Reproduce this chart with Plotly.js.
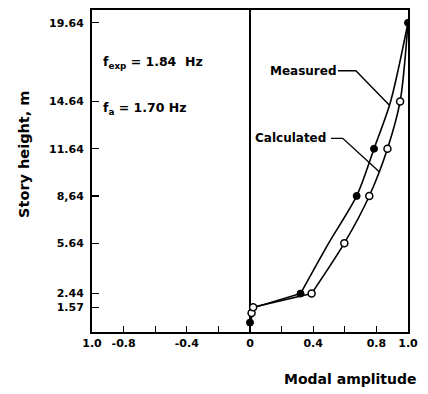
<!DOCTYPE html>
<html>
<head>
<meta charset="utf-8">
<script src="https://cdn.plot.ly/plotly-3.0.1.min.js"></script>
<style>html,body{margin:0;padding:0;background:#fff;}#chart{width:428px;height:394px;}</style>
</head>
<body>
<div id="chart"></div>
<script>
// Measured mode shape (filled markers where marked)
const measuredHeight = [0.6, 1.57, 2.44, 5.64, 8.64, 11.64, 14.64, 19.64];
const measuredAmp    = [0.0, 0.03, 0.32, 0.498, 0.675, 0.785, 0.89, 1.0];
const measuredMarked = [true, false, true, false, true, true, false, true];

// Calculated mode shape (open markers where marked)
const calcHeight = [0.2, 1.2, 1.57, 2.44, 5.64, 8.64, 11.64, 14.64, 19.64];
const calcAmp    = [0.0, 0.01, 0.02, 0.39, 0.597, 0.755, 0.87, 0.95, 1.0];
const calcMarked = [false, true, true, true, true, true, true, true, false];

const yTickVals = [1.57, 2.44, 5.64, 8.64, 11.64, 14.64, 19.64];
const yTickText = ["1.57", "2.44", "5.64", "8,64", "11.64", "14.64", "19.64"];
const xTickVals = [-1, -0.8, -0.4, 0, 0.4, 0.8, 1];
const xTickText = ["1.0", "-0.8", "-0.4", "0", "0.4", "0.8", "1.0"];
const xMinorTickVals = [-0.6, -0.2, 0.2, 0.6];

const FONT = "DejaVu Sans, sans-serif";

function lowerUpper(h, a, idx) {
  return {
    lowH: h.slice(0, idx + 1), lowA: a.slice(0, idx + 1),
    upH: h.slice(idx), upA: a.slice(idx)
  };
}
const m = lowerUpper(measuredHeight, measuredAmp, 2);
const c = lowerUpper(calcHeight, calcAmp, 3);

function pick(arr, mask) { return arr.filter((_, i) => mask[i]); }

const lineStyle = {color: "#000", width: 1.6};
const splineStyle = Object.assign({shape: "spline", smoothing: 0.8}, lineStyle);
const traces = [
  {x: m.lowA, y: m.lowH, mode: "lines", line: lineStyle, hoverinfo: "skip"},
  {x: m.upA, y: m.upH, mode: "lines", line: splineStyle, hoverinfo: "skip"},
  {x: c.lowA, y: c.lowH, mode: "lines", line: lineStyle, hoverinfo: "skip"},
  {x: c.upA, y: c.upH, mode: "lines", line: splineStyle, hoverinfo: "skip"},
  {x: pick(calcAmp, calcMarked), y: pick(calcHeight, calcMarked), mode: "markers", name: "Calculated",
   marker: {symbol: "circle", size: 7, color: "#fff", line: {color: "#000", width: 1.5}}},
  {x: pick(measuredAmp, measuredMarked), y: pick(measuredHeight, measuredMarked), mode: "markers", name: "Measured",
   marker: {symbol: "circle", size: 7, color: "#000", line: {color: "#000", width: 1}}}
];

const layout = {
  width: 428, height: 394,
  margin: {l: 92, r: 20, t: 10, b: 62},
  paper_bgcolor: "#fff", plot_bgcolor: "#fff",
  showlegend: false,
  font: {family: FONT, color: "#000", size: 11},
  xaxis: {
    range: [-1, 1], tickmode: "array", tickvals: xTickVals, ticktext: xTickText,
    ticks: "inside", ticklen: 6, tickwidth: 1.3, tickcolor: "#000",
    minor: {tickmode: "array", tickvals: xMinorTickVals, ticks: "inside", ticklen: 6, tickwidth: 1.3, tickcolor: "#000", showgrid: false},
    showline: true, mirror: true, linecolor: "#000", linewidth: 2,
    showgrid: false, zeroline: true, zerolinecolor: "#000", zerolinewidth: 1.6,
    tickfont: {family: FONT, size: 11, color: "#000", weight: "bold"}
  },
  yaxis: {
    range: [0, 20.45], tickmode: "array", tickvals: yTickVals, ticktext: yTickText,
    ticks: "inside", ticklen: 7, tickwidth: 1.3, tickcolor: "#000",
    showline: true, mirror: true, linecolor: "#000", linewidth: 2,
    showgrid: false, zeroline: false, ticklabelstandoff: 4,
    tickfont: {family: FONT, size: 11, color: "#000", weight: "bold"}
  },
  annotations: [
    {xref: "x", yref: "y", x: -0.945, y: 17.1, xanchor: "left", yanchor: "middle", showarrow: false,
     text: "f<sub>exp</sub> = 1.84  Hz", font: {family: FONT, size: 12.5, weight: "bold"}},
    {xref: "x", yref: "y", x: -0.945, y: 14.2, xanchor: "left", yanchor: "middle", showarrow: false,
     text: "f<sub>a</sub> = 1.70 Hz", font: {family: FONT, size: 12.5, weight: "bold"}},
    {xref: "x", yref: "y", x: 0.112, y: 16.6, xanchor: "left", yanchor: "middle", showarrow: false,
     text: "Measured", font: {family: FONT, size: 12, weight: "bold"}},
    {xref: "x", yref: "y", x: 0.017, y: 12.3, xanchor: "left", yanchor: "middle", showarrow: false,
     text: "Calculated", font: {family: FONT, size: 12, weight: "bold"}},
    {xref: "paper", yref: "paper", x: 1.035, y: -0.115, xanchor: "right", yanchor: "top", showarrow: false,
     text: "Modal amplitude", font: {family: FONT, size: 14, weight: "bold"}},
    {xref: "paper", yref: "paper", x: -0.215, y: 0.55, xanchor: "center", yanchor: "middle", showarrow: false,
     textangle: -90, text: "Story height, m", font: {family: FONT, size: 14.5, weight: "bold"}}
  ],
  shapes: [
    {type: "path", xref: "x", yref: "y", path: "M 0.557 16.59 L 0.67 16.59 L 0.881 14.41", line: {color: "#000", width: 1.4}},
    {type: "path", xref: "x", yref: "y", path: "M 0.513 12.3 L 0.587 12.3 L 0.818 10.18", line: {color: "#000", width: 1.4}}
  ]
};

Plotly.newPlot("chart", traces, layout, {displayModeBar: false, staticPlot: true});
</script>
</body>
</html>
